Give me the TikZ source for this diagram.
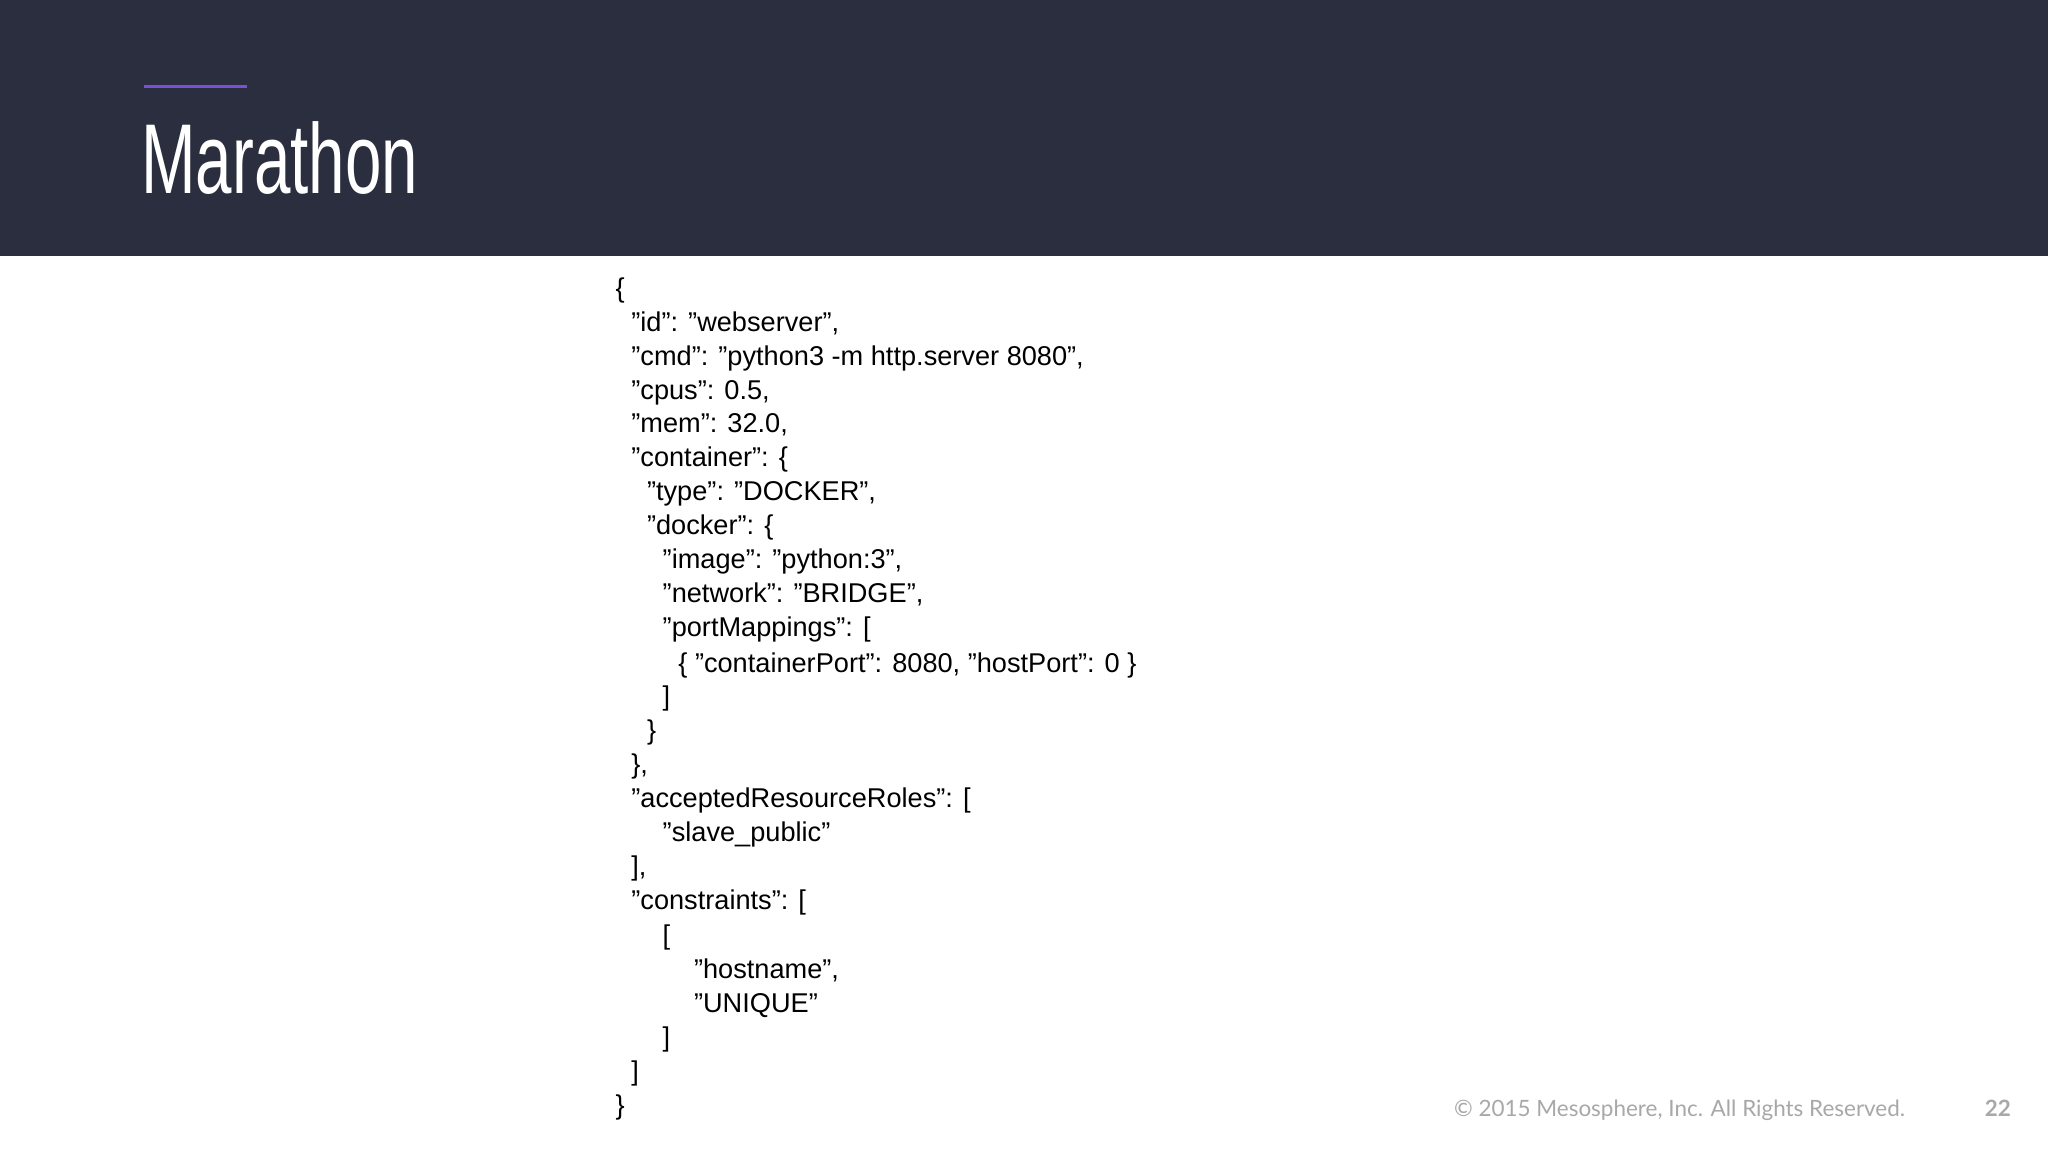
\documentclass[tikz,border=0pt]{standalone}
\usepackage{fontspec}
\setmainfont{Liberation Sans}
\newfontfamily\footfont{Lato}
\definecolor{hdr}{HTML}{2B2E3E}
\definecolor{purp}{HTML}{7B4FD6}
\definecolor{footg}{HTML}{A8A8A8}
\begin{document}
\begin{tikzpicture}[x=0.5pt,y=-0.5pt,
  code/.style={anchor=base west,inner sep=0pt,font=\fontsize{10.4pt}{12pt}\selectfont,text=black}]
\useasboundingbox (0,0) rectangle (1568,882);
\fill[white] (0,0) rectangle (1568,882);
\fill[hdr] (0,0) rectangle (1568,196);
\draw[purp,line width=1.2pt] (110,66) -- (189,66);
\node[anchor=base west,inner sep=0pt,text=white,xscale=0.66,font=\fontsize{38pt}{40pt}\selectfont] (title) at (108,148) {Marathon};
\def\b{7.5}
\node[code] (l1) at (471,220+\b) {\{};
\node[code] (l2) at (483,246+\b) {"id": "webserver",};
\node[code] (l3) at (483,272+\b) {"cmd": "python3 -m http.server 8080",};
\node[code] (l4) at (483,298+\b) {"cpus": 0.5,};
\node[code] (l5) at (483,324+\b) {"mem": 32.0,};
\node[code] (l6) at (483,350+\b) {"container": \{};
\node[code] (l7) at (495,376+\b) {"type": "DOCKER",};
\node[code] (l8) at (495,402+\b) {"docker": \{};
\node[code] (l9) at (507,428+\b) {"image": "python:3",};
\node[code] (l10) at (507,454+\b) {"network": "BRIDGE",};
\node[code] (l11) at (507,480+\b) {"portMappings": [};
\node[code] (l12) at (519,507+\b) {\{ "containerPort": 8080, "hostPort": 0 \}};
\node[code] (l13) at (507,533+\b) {]};
\node[code] (l14) at (495,559+\b) {\}};
\node[code] (l15) at (483,585+\b) {\},};
\node[code] (l16) at (483,611+\b) {"acceptedResourceRoles": [};
\node[code] (l17) at (507,637+\b) {"slave\_public"};
\node[code] (l18) at (483,663+\b) {],};
\node[code] (l19) at (483,689+\b) {"constraints": [};
\node[code] (l20) at (507,716+\b) {[};
\node[code] (l21) at (531,742+\b) {"hostname",};
\node[code] (l22) at (531,768+\b) {"UNIQUE"};
\node[code] (l23) at (507,794+\b) {]};
\node[code] (l24) at (483,820+\b) {]};
\node[code] (l25) at (471,846+\b) {\}};
\node[anchor=base east,inner sep=0pt,text=footg,font=\footfont\fontsize{8.6pt}{10pt}\selectfont] (copy) at (1459,855) {© 2015 Mesosphere, Inc. All Rights Reserved.};
\node[anchor=base east,inner sep=0pt,text=footg,font=\footfont\bfseries\fontsize{8.6pt}{10pt}\selectfont] (pg) at (1540,855) {22};
\end{tikzpicture}
\end{document}
